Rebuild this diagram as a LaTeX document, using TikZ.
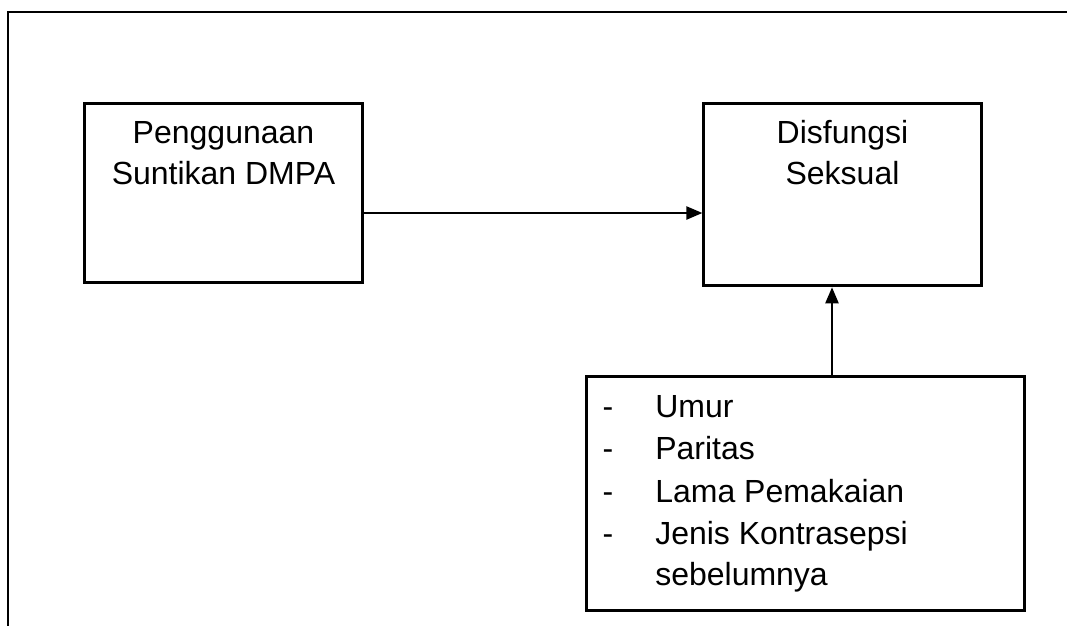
\documentclass[tikz,border=0pt]{standalone}
\usepackage{fontspec}
\setmainfont{Liberation Sans}
\usetikzlibrary{arrows.meta}
\begin{document}
\begin{tikzpicture}[x=0.75pt,y=-0.75pt,
  boxnode/.style={draw,line width=2.3pt,inner sep=0pt,minimum width=#1},
  txt/.style={font=\fontsize{24}{29}\selectfont,inner sep=0pt},
  arr/.style={line width=1.1pt,-{Triangle[length=12pt,width=10pt]}},
  frame/.style={line width=1.2pt}]
\useasboundingbox (0,0) rectangle (1067,626);
% outer frame (top and left visible)
\coordinate (ftr) at (1067,12);
\coordinate (ftl) at (8,12);
\coordinate (fbl) at (8,626);
\draw[frame] (ftr) -- (ftl) -- (fbl);
% boxes
\node[boxnode=208pt,minimum height=134pt] (b1) at (223.5,193) {};
\node[boxnode=208pt,minimum height=137pt] (b2) at (842.5,194.5) {};
\node[boxnode=328pt,minimum height=175pt] (b3) at (805.5,493.5) {};
% texts box1
\node[txt,anchor=base] (t1a) at (223.5,143.3) {Penggunaan};
\node[txt,anchor=base] (t1b) at (223.5,184.3) {Suntikan DMPA};
% texts box2
\node[txt,anchor=base] (t2a) at (842.5,143.3) {Disfungsi};
\node[txt,anchor=base] (t2b) at (842.5,184.3) {Seksual};
% texts box3
\node[txt,anchor=base] (d1) at (608,417) {-};
\node[txt,anchor=base] (d2) at (608,459) {-};
\node[txt,anchor=base] (d3) at (608,502) {-};
\node[txt,anchor=base] (d4) at (608,544) {-};
\node[txt,anchor=base west] (l1) at (655,417) {Umur};
\node[txt,anchor=base west] (l2) at (655,459) {Paritas};
\node[txt,anchor=base west] (l3) at (655,502) {Lama Pemakaian};
\node[txt,anchor=base west] (l4) at (655,544) {Jenis Kontrasepsi};
\node[txt,anchor=base west] (l5) at (655,585) {sebelumnya};
% connectors
\coordinate (ay) at (0,213);
\coordinate (ax) at (832,0);
\draw[arr] (b1.east |- ay) -- (b2.west |- ay);
\draw[arr] (b3.north -| ax) -- (b2.south -| ax);
\end{tikzpicture}
\end{document}
